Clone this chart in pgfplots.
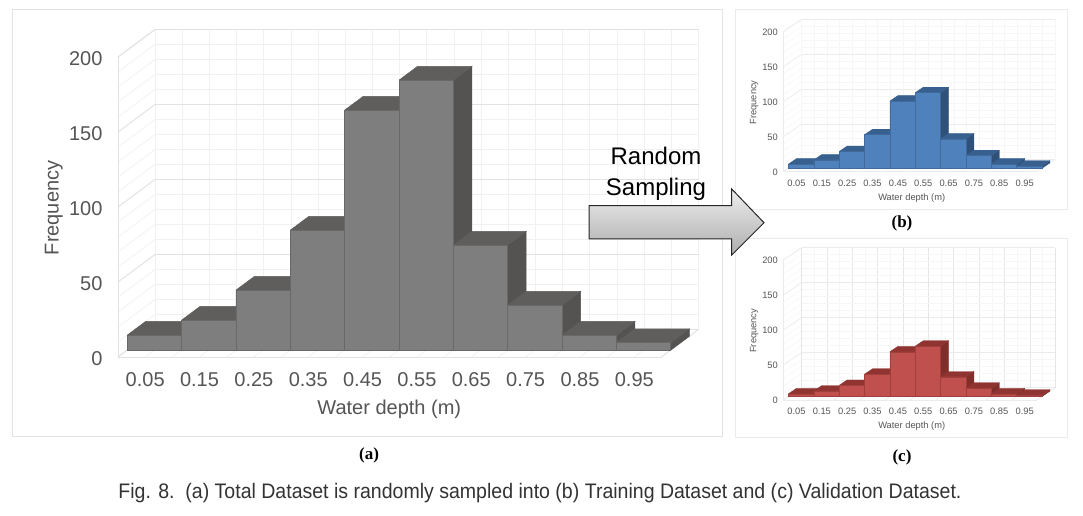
\documentclass[border=0pt]{standalone}
\usepackage{fontspec}
\setmainfont{Liberation Sans}
\newfontfamily\serifb{Liberation Serif}
\newfontfamily\capf[FakeStretch=0.93]{Liberation Sans}
\usepackage{pgfplots}
\pgfplotsset{compat=1.18}
\usetikzlibrary{shadings}
\definecolor{gridmaj}{HTML}{E2E2E2}
\definecolor{gridmin}{HTML}{F1F1F1}
\definecolor{gridfaint}{HTML}{F6F6F6}
\definecolor{framec}{HTML}{E3E3E3}
\definecolor{ticktxt}{HTML}{555555}
\definecolor{gf}{HTML}{7F7E7E}\definecolor{gt}{HTML}{5F5E5C}\definecolor{gs}{HTML}{545352}\definecolor{ge}{HTML}{686868}
\definecolor{bf}{HTML}{4F81BD}\definecolor{bt}{HTML}{37608F}\definecolor{bs}{HTML}{2F5079}\definecolor{be}{HTML}{41699A}
\definecolor{rf}{HTML}{C0504D}\definecolor{rt}{HTML}{8F3430}\definecolor{rs}{HTML}{7F2E2A}\definecolor{re}{HTML}{A03F3C}
% one 3-D bar: left, right, frequency, depth from, depth to
\newcommand{\tdbar}[5]{%
  \addplot3[side face] coordinates {(#2,#4,0)(#2,#5,0)(#2,#5,#3)(#2,#4,#3)(#2,#4,0)};
  \addplot3[top face] coordinates {(#1,#4,#3)(#2,#4,#3)(#2,#5,#3)(#1,#5,#3)(#1,#4,#3)};
  \addplot3[front face] coordinates {(#1,#4,0)(#2,#4,0)(#2,#4,#3)(#1,#4,#3)(#1,#4,0)};
}
\pgfplotsset{
  hist3d/.style={
    clip=false, xmin=0, xmax=10, ymin=0, ymax=1, zmin=0, zmax=200,
    anchor=south west,
    xtick={0.5,1.5,...,9.5},
    xticklabels={0.05,0.15,0.25,0.35,0.45,0.55,0.65,0.75,0.85,0.95},
    minor xtick={0,1,...,10},
    ytick=\empty,
    ztick={0,50,100,150,200},
    minor ztick={0,10,...,200},
    xmajorgrids, xminorgrids, zmajorgrids, zminorgrids,
    major x grid style={gridmin,line width=0.7pt},
    minor x grid style={gridmin,line width=0.7pt},
    major z grid style={gridmaj,line width=0.8pt},
    minor z grid style={gridmin,line width=0.7pt},
    major tick length=0pt, minor tick length=0pt,
    axis line style={gridmaj,line width=0.8pt},
    /pgf/number format/assume math mode=true,
    tick label style={text=ticktxt},
    label style={text=ticktxt},
    every axis plot/.append style={no markers, line join=miter, forget plot},
  },
  small3d/.style={
    x={(25.35pt,0pt)}, y={(18.3pt,12.3pt)}, z={(0pt,0.7pt)},
    tick label style={font=\fontsize{9.3}{11}\selectfont},
    x tick label style={anchor=center, xshift=0.5pt, yshift=-11.5pt},
    z tick label style={anchor=east, xshift=-2pt, yshift=-0.5pt},
    label style={font=\fontsize{9.3}{11}\selectfont},
    x label style={xshift=16pt, yshift=1pt},
    z label style={xshift=9pt, yshift=-2.7pt},
    major x grid style={gridfaint,line width=0.4pt},
    minor x grid style={gridfaint,line width=0.4pt},
    major z grid style={gridmaj!70!white,line width=0.5pt},
    minor z grid style={gridfaint,line width=0.4pt},
    axis line style={gridmaj!70!white,line width=0.5pt},
  },
}
\begin{document}
\begin{tikzpicture}[x=1pt,y=1pt]
\path[fill=white] (0,0) rectangle (1083,516);
\draw[framec,line width=1pt] (12.5,79) rectangle (722,506);
\draw[framec!70!white,line width=1pt] (735,306) rectangle (1067,506);
\draw[framec!70!white,line width=1pt] (735,78.5) rectangle (1067,277.5);
% (a)
\begin{axis}[hist3d, at={(118pt,159pt)},
  x={(54.35pt,0pt)}, y={(37pt,27.5pt)}, z={(0pt,1.5pt)},
  tick label style={font=\fontsize{20}{22}\selectfont},
  x tick label style={anchor=center, yshift=-23pt},
  z tick label style={anchor=east, xshift=-12pt, yshift=-1.5pt},
  label style={font=\fontsize{20}{22}\selectfont},
  x label style={xshift=24pt, yshift=-4pt},
  z label style={yshift=1pt, xshift=20pt},
  xlabel={Water depth (m)}, zlabel={Frequency},
  front face/.style={fill=gf,draw=ge,line width=0.8pt},
  top face/.style={fill=gt,draw=gt,line width=0.5pt},
  side face/.style={fill=gs,draw=gs,line width=0.5pt},
]
\tdbar{0}{1}{10}{0.25}{0.75}
\tdbar{1}{2}{20}{0.25}{0.75}
\tdbar{2}{3}{40}{0.25}{0.75}
\tdbar{3}{4}{80}{0.25}{0.75}
\tdbar{4}{5}{160}{0.25}{0.75}
\tdbar{5}{6}{180}{0.25}{0.75}
\tdbar{6}{7}{70}{0.25}{0.75}
\tdbar{7}{8}{30}{0.25}{0.75}
\tdbar{8}{9}{10}{0.25}{0.75}
\tdbar{9}{10}{5}{0.25}{0.75}
\end{axis}
% (b)
\begin{axis}[hist3d, small3d, at={(783.3pt,344.3pt)},
  xlabel={Water depth (m)}, zlabel={Frequency},
  front face/.style={fill=bf,draw=be,line width=0.5pt},
  top face/.style={fill=bt,draw=bt,line width=0.3pt},
  side face/.style={fill=bs,draw=bs,line width=0.3pt},
]
\tdbar{0}{1}{6}{0.28}{0.72}
\tdbar{1}{2}{12}{0.28}{0.72}
\tdbar{2}{3}{24}{0.28}{0.72}
\tdbar{3}{4}{48}{0.28}{0.72}
\tdbar{4}{5}{96}{0.28}{0.72}
\tdbar{5}{6}{108}{0.28}{0.72}
\tdbar{6}{7}{42}{0.28}{0.72}
\tdbar{7}{8}{18}{0.28}{0.72}
\tdbar{8}{9}{6}{0.28}{0.72}
\tdbar{9}{10}{3}{0.28}{0.72}
\end{axis}
% (c)
\begin{axis}[hist3d, small3d, at={(783.3pt,116pt)},
  xlabel={Water depth (m)}, zlabel={Frequency},
  minor x grid style={gridmaj!85!white,line width=0.5pt},
  front face/.style={fill=rf,draw=re,line width=0.5pt},
  top face/.style={fill=rt,draw=rt,line width=0.3pt},
  side face/.style={fill=rs,draw=rs,line width=0.3pt},
]
\tdbar{0}{1}{4}{0.28}{0.72}
\tdbar{1}{2}{8}{0.28}{0.72}
\tdbar{2}{3}{16}{0.28}{0.72}
\tdbar{3}{4}{32}{0.28}{0.72}
\tdbar{4}{5}{64}{0.28}{0.72}
\tdbar{5}{6}{72}{0.28}{0.72}
\tdbar{6}{7}{28}{0.28}{0.72}
\tdbar{7}{8}{12}{0.28}{0.72}
\tdbar{8}{9}{4}{0.28}{0.72}
\tdbar{9}{10}{2}{0.28}{0.72}
\end{axis}
% arrow
\draw[draw=black!85,line width=1pt,top color=white!93!black,bottom color=black!32]
  (589,310.3) -- (731.7,310.3) -- (731.7,327) -- (764,293.3) -- (731.7,261) -- (731.7,277) -- (589,277) -- cycle;
\node[font=\fontsize{24}{29}\selectfont,align=center,text=black] at (656,342) {Random\\[2pt]Sampling};
% sub-captions
\node[font=\serifb\bfseries\fontsize{17}{20}\selectfont] at (369,60.5) {(a)};
\node[font=\serifb\bfseries\fontsize{17}{20}\selectfont] at (902,292.5) {(b)};
\node[font=\serifb\bfseries\fontsize{17}{20}\selectfont] at (902,59) {(c)};
\node[font=\capf\fontsize{21}{24}\selectfont,text=black!80] at (540,23) {Fig. 8.\ \ (a) Total Dataset is randomly sampled into (b) Training Dataset and (c) Validation Dataset.};
\end{tikzpicture}
\end{document}
